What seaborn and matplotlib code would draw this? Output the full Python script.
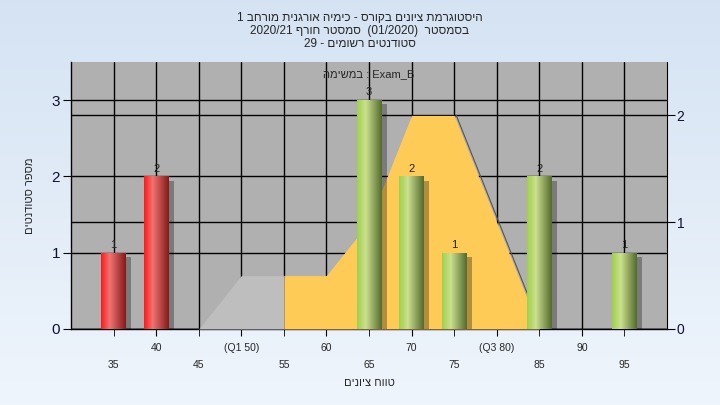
import numpy as np
import pandas as pd
import seaborn as sns
import matplotlib.pyplot as plt
import matplotlib.patheffects as pe

# --- dados do histograma ---
bins = [35, 40, 65, 70, 75, 85, 95]
counts = [1, 2, 3, 2, 1, 2, 1]
status = ['fail', 'fail', 'pass', 'pass', 'pass', 'pass', 'pass']

# curva de distribuicao (eixo direito)
curve_x = [45, 50, 55, 60, 65, 70, 75, 80, 85]
curve_y = [0, 0.5, 0.5, 0.5, 1, 2, 2, 1, 0]

row1_ticks = [40, 50, 60, 70, 80, 90]
row1_labels = ['40', '(Q1 50)', '60', '70', '(Q3 80)', '90']
row2_ticks = [35, 45, 55, 65, 75, 85, 95]

title_lines = ['היסטוגרמת ציונים בקורס - כימיה אורגנית מורחב 1',
               'בסמסטר  (01/2020)  סמסטר חורף 2020/21',
               'סטודנטים רשומים - 29']
task_text = 'במשימה : Exam_B'
x_label = 'טווח ציונים'
y_label = 'מספר סטודנטים'


def is_heb(w):
    return any('\u0590' <= ch <= '\u05ff' for ch in w)


def heb(s):
    # matplotlib nao faz bidi: inverte as letras de cada palavra hebraica
    return ' '.join(w[::-1] if is_heb(w) else w for w in s.split(' '))


def rtl(s):
    # linha inteira da direita para a esquerda
    return ' '.join(reversed([w[::-1] if is_heb(w) else w for w in s.split(' ')]))


sns.set_style('white')
plt.rcParams['font.family'] = ['Liberation Sans', 'DejaVu Sans']

fig = plt.figure(figsize=(7.2, 4.05), dpi=100)

# fundo em degrade azul claro
bg = fig.add_axes([0, 0, 1, 1], zorder=-10)
grad = np.linspace(0, 1, 256)[:, None]
top_c = np.array([0.835, 0.890, 0.953])
bot_c = np.array([0.937, 0.961, 0.988])
bg.imshow(top_c + (bot_c - top_c) * grad[:, :, None], aspect='auto', extent=[0, 1, 0, 1])
bg.set_axis_off()

rect = [71 / 720, 1 - 329 / 405, (667 - 71) / 720, (329 - 62) / 405]
ax = fig.add_axes(rect, zorder=0)
ax.set_facecolor('#b0b0b0')
ax.set_xlim(30, 100)
ax.set_ylim(0, 3.5)
ax.set_yticks([0, 1, 2, 3])
ax.set_xticks(row1_ticks)
ax.set_xticklabels(row1_labels)
ax.set_xticks(row2_ticks, minor=True)
ax.set_xticklabels([str(t) for t in row2_ticks], minor=True)
ax.tick_params(axis='x', which='major', length=5, pad=5, labelsize=7.5, color='black', direction='out', bottom=True)
ax.tick_params(axis='x', which='minor', length=5, pad=17, labelsize=7.5, color='black', direction='out', bottom=True)
ax.tick_params(axis='y', length=6, pad=2, labelsize=11, color='black', labelcolor='#111133', direction='out', left=True)
ax.set_axisbelow(True)
ax.grid(axis='x', which='both', color='black', lw=1)
ax.grid(axis='y', which='major', color='black', lw=1)
for s in ['top', 'right']:
    ax.spines[s].set_visible(False)
for s in ['left', 'bottom']:
    ax.spines[s].set_color('black')
    ax.spines[s].set_linewidth(1)
ax.set_xlabel(rtl(x_label), fontsize=8, labelpad=6)
ax.set_ylabel(rtl(y_label), fontsize=8, labelpad=12)

# eixo direito: area da curva
ax_r = ax.twinx()
ax_r.set_zorder(1)
ax_r.patch.set_visible(False)
ax_r.set_ylim(0, 2.5)
ax_r.set_yticks([0, 1, 2])
ax_r.tick_params(axis='y', length=6, pad=1, labelsize=10, color='black', labelcolor='#111133', direction='out', right=True)
ax_r.set_axisbelow(True)
ax_r.grid(axis='y', color='black', lw=1)
ax_r.grid(axis='x', visible=False)
for s in ['top', 'left', 'bottom']:
    ax_r.spines[s].set_visible(False)
ax_r.spines['right'].set_color('black')
ax_r.fill_between(curve_x[:3], curve_y[:3], color='#bebebe', lw=0, zorder=2)
ax_r.fill_between(curve_x[2:], curve_y[2:], color='#fecb57', lw=0, zorder=2)
ax_r.plot(np.array(curve_x[6:]) + 0.25, curve_y[6:], color='#555555', lw=0.8, zorder=1.9)

# eixo das barras (mesma escala da esquerda)
ax_b = ax.twinx()
ax_b.set_zorder(2)
ax_b.patch.set_visible(False)
df = pd.DataFrame({'bin': bins, 'count': counts, 'status': status})
sns.barplot(data=df, x='bin', y='count', hue='status', native_scale=True,
            palette={'fail': '#ff2020', 'pass': '#a0d050'}, width=0.58,
            dodge=False, legend=False, ax=ax_b, linewidth=0)
ax_b.set_xlim(30, 100)
ax_b.set_ylim(0, 3.5)
ax_b.set_xlabel('')
ax_b.set_ylabel('')
ax_b.tick_params(axis='y', right=False, labelright=False, left=False, labelleft=False)
for s in ax_b.spines.values():
    s.set_visible(False)

# gradiente cilindrico nas barras
stops = [0, 0.35, 1]
grad_cols = {'fail': [[1.0, 0.1, 0.1], [0.94, 0.45, 0.45], [0.52, 0.1, 0.1]],
             'pass': [[0.62, 0.82, 0.30], [0.80, 0.88, 0.56], [0.33, 0.42, 0.18]]}
xs = np.linspace(0, 1, 64)
for p in ax_b.patches:
    kind = 'fail' if p.get_facecolor()[1] < 0.3 else 'pass'
    cols = np.array(grad_cols[kind])
    row = np.stack([np.interp(xs, stops, cols[:, i]) for i in range(3)], axis=-1)[None, :, :]
    p.set_path_effects([pe.SimplePatchShadow(offset=(4, -3), shadow_rgbFace='black', alpha=0.3), pe.Normal()])
    x0, w, h = p.get_x(), p.get_width(), p.get_height()
    im = ax_b.imshow(row, extent=[x0, x0 + w, 0, h], aspect='auto', zorder=p.get_zorder() + 0.1)
    im.set_clip_path(p)
ax_b.set_xlim(30, 100)
ax_b.set_ylim(0, 3.5)

for c in ax_b.containers:
    ax_b.bar_label(c, fontsize=8, padding=2, color='#222222')

ax_b.text(0.5, 0.955, heb(task_text), transform=ax_b.transAxes, ha='center', va='center', fontsize=8)

for i, line in enumerate(title_lines):
    fig.text(0.5, 1 - (18 + 13 * i) / 405, rtl(line), ha='center', va='center', fontsize=8.5)

fig.savefig('out.png', dpi=100)
